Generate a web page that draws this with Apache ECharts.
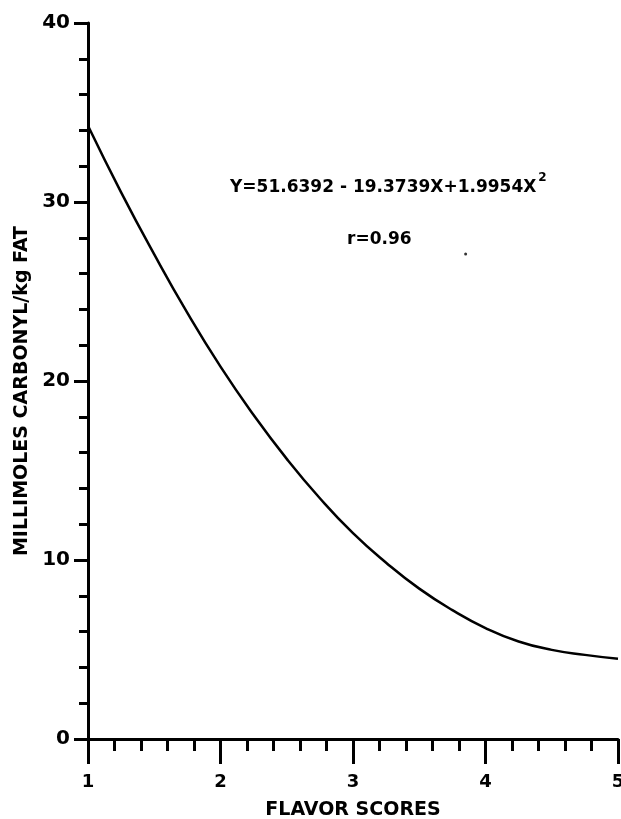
<!DOCTYPE html>
<html>
<head>
<meta charset="utf-8">
<script src="https://cdn.jsdelivr.net/npm/echarts@6/dist/echarts.min.js"></script>
<style>
    html, body { margin: 0; padding: 0; background: #fff; }
    #chart { width: 621px; height: 819px; }
</style>
</head>
<body>
<div id="chart"></div>
<script>
    // values
    const flavorScores = [1, 1.25, 1.5, 1.75, 2, 2.25, 2.5, 2.75, 3, 3.25, 3.5, 3.75, 4, 4.25, 4.5, 4.75, 5];
    const carbonyl = [34.26, 30.54, 27.07, 23.8, 20.8, 18.1, 15.65, 13.45, 11.5, 9.85, 8.4, 7.2, 6.2, 5.45, 4.98, 4.7, 4.48];
    // stray dot printed near the r value
    const speck = [[3.85, 27.1]];
    const xTicks = ['1', '2', '3', '4', '5'];
    const yTicks = ['0', '10', '20', '30', '40'];

    const font = 'DejaVu Sans';
    const chart = echarts.init(document.getElementById('chart'));

    chart.setOption({
        backgroundColor: '#fff',
        animation: false,
        grid: {left: 88, right: 3, top: 23, bottom: 80, containLabel: false, outerBoundsMode: 'none'},
        xAxis: {
            type: 'value',
            min: 1,
            max: 5,
            interval: 1,
            name: 'FLAVOR SCORES',
            nameLocation: 'middle',
            nameGap: 62,
            nameTextStyle: {color: '#000', fontFamily: font, fontSize: 19, fontWeight: 'bold'},
            axisLine: {show: true, onZero: false, lineStyle: {color: '#000', width: 3}},
            axisTick: {show: true, length: 25, lineStyle: {color: '#000', width: 3}},
            minorTick: {show: true, splitNumber: 5, length: 12, lineStyle: {color: '#000', width: 3}},
            axisLabel: {
                margin: 34,
                color: '#000',
                fontFamily: font,
                fontSize: 18,
                fontWeight: 'bold',
                formatter: v => xTicks[Math.round(v) - 1]
            },
            splitLine: {show: false}
        },
        yAxis: {
            type: 'value',
            min: 0,
            max: 40,
            interval: 10,
            name: 'MILLIMOLES CARBONYL/kg FAT',
            nameLocation: 'middle',
            nameGap: 52,
            nameRotate: 90,
            nameTextStyle: {color: '#000', fontFamily: font, fontSize: 19, fontWeight: 'bold', padding: [0, 20, 0, 0]},
            axisLine: {show: true, lineStyle: {color: '#000', width: 3}},
            axisTick: {show: true, length: 14, lineStyle: {color: '#000', width: 3}},
            minorTick: {show: true, splitNumber: 5, length: 9, lineStyle: {color: '#000', width: 3}},
            axisLabel: {
                margin: 18,
                color: '#000',
                fontFamily: font,
                fontSize: 20,
                fontWeight: 'bold',
                formatter: v => yTicks[Math.round(v / 10)]
            },
            splitLine: {show: false}
        },
        graphic: [
            {
                type: 'text',
                left: 230,
                top: 172,
                style: {
                    text: '{b|Y=51.6392 - 19.3739X+1.9954X}{s|2}',
                    rich: {
                        b: {fontFamily: font, fontSize: 17, fontWeight: 'bold', fill: '#000', verticalAlign: 'bottom', lineHeight: 24},
                        s: {fontFamily: font, fontSize: 12, fontWeight: 'bold', fill: '#000', verticalAlign: 'top', lineHeight: 24, padding: [0, 0, 10, 2]}
                    }
                }
            },
            {
                type: 'text',
                left: 347,
                top: 231,
                style: {text: 'r=0.96', fontFamily: font, fontSize: 17, fontWeight: 'bold', fill: '#000'}
            }
        ],
        series: [
            {
                name: 'fit',
                type: 'line',
                smooth: 0.5,
                showSymbol: false,
                lineStyle: {color: '#000', width: 2.5},
                data: flavorScores.map((x, i) => [x, carbonyl[i]])
            },
            {
                name: 'speck',
                type: 'scatter',
                symbolSize: 3,
                itemStyle: {color: '#000'},
                data: speck
            }
        ]
    });
</script>
</body>
</html>
